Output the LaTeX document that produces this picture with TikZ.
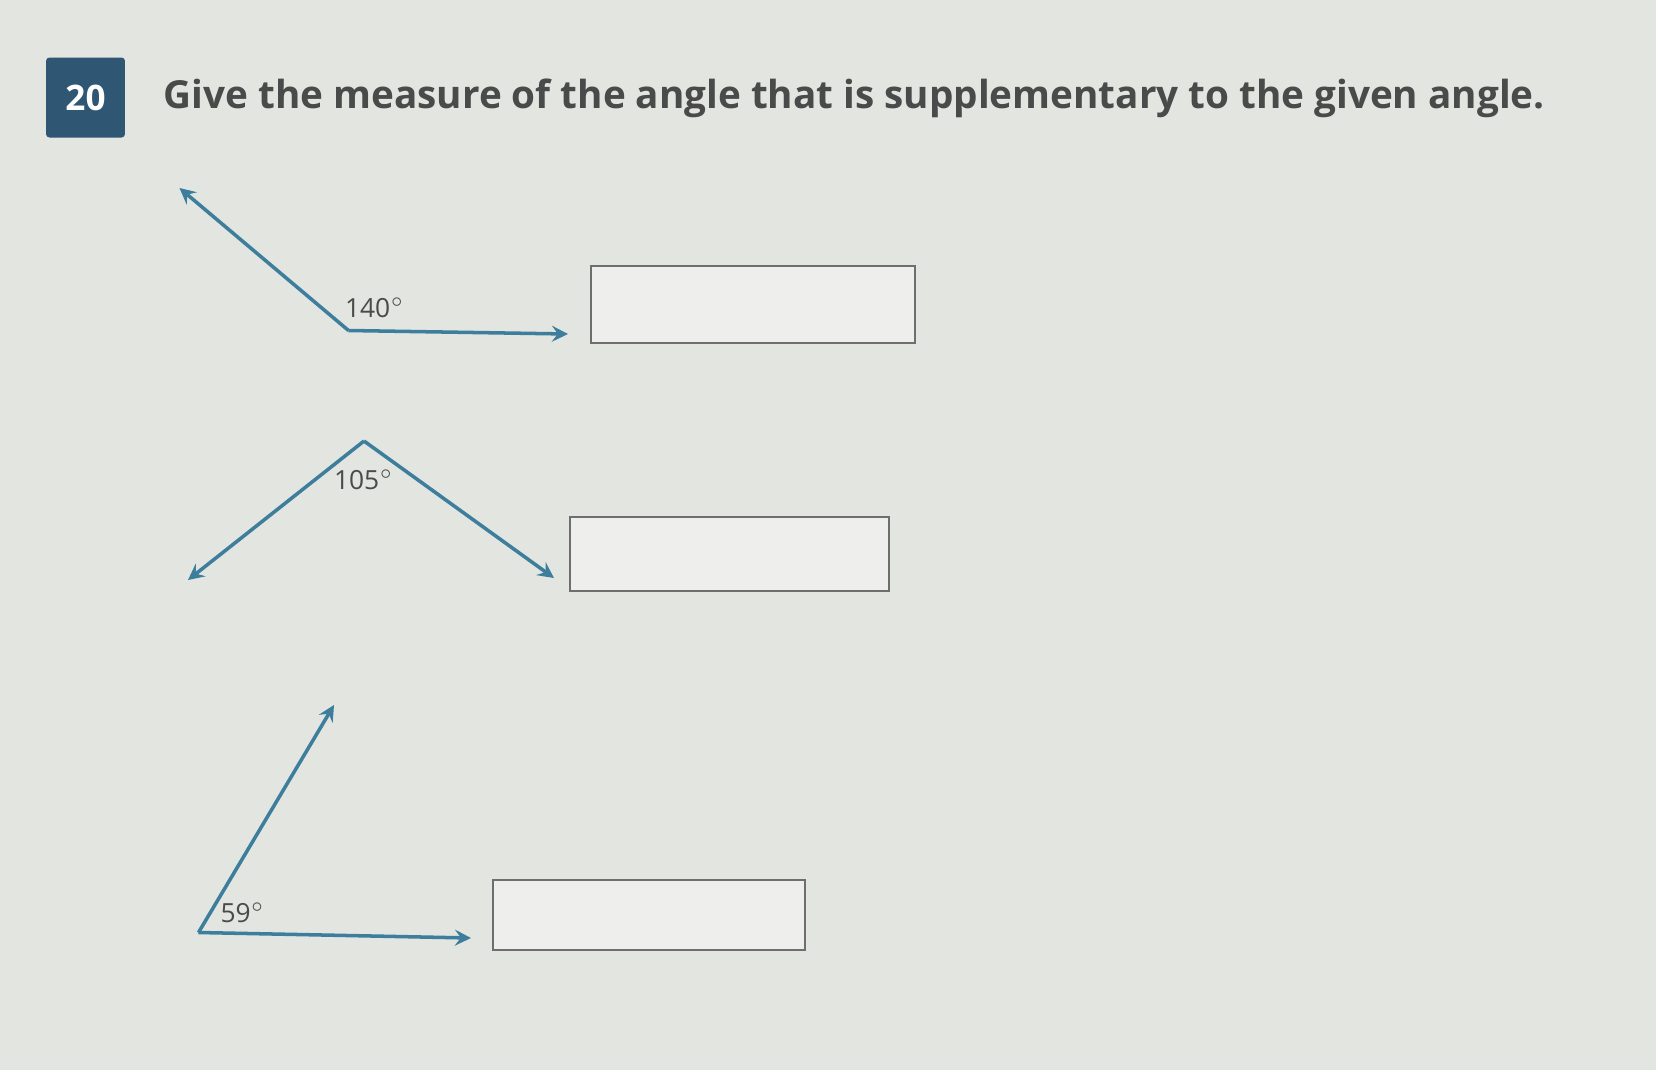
\documentclass[tikz,border=0pt]{standalone}
\usepackage{fontspec}
\setmainfont{Open Sans}
\tikzset{>=stealth}
\usetikzlibrary{positioning}
\definecolor{paper}{HTML}{E3E5E1}
\definecolor{badge}{HTML}{2F5672}
\definecolor{ray}{HTML}{3D7E9C}
\definecolor{ink}{HTML}{4A4A4A}
\tikzset{
  raystyle/.style={->,draw=ray,line width=1pt},
  anglabel/.style={text=ink,font=\fontsize{7.5}{9}\selectfont,inner sep=1pt},
  answerbox/.style={draw=ink!80,fill=white!40!paper,line width=0.6pt}
}

\begin{document}
\begin{tikzpicture}
        \useasboundingbox (0,0) rectangle (16.56,-10.70);
        \fill[paper] (0,0) rectangle (16.56,-10.70);
        % number and question
        \node[fill=badge,text=white,font=\bfseries\fontsize{10}{12}\selectfont,
              minimum width=0.79cm,minimum height=0.80cm,inner sep=0pt,rounded corners=1pt]
              (num) at (0.855,-0.975) {20};
        \node[anchor=west,text=ink,font=\bfseries\fontsize{11}{13}\selectfont,inner sep=0pt]
              (question) at (1.63,-0.98) {Give the measure of the angle that is supplementary to the given angle.};
        % first angle
        \coordinate (v1) at (3.485,-3.305);
        \coordinate (a1) at (1.795,-1.88);
        \coordinate (b1) at (5.68,-3.34);
        \draw[raystyle] (v1) -- (a1);
        \draw[raystyle] (v1) -- (b1);
        \node[anglabel] (l1) at (3.75,-3.08) {140$^{\circ}$};
        \draw[answerbox] (5.91,-2.66) rectangle (9.15,-3.43);
        % second angle
        \coordinate (v2) at (3.64,-4.41);
        \coordinate (a2) at (1.88,-5.80);
        \coordinate (b2) at (5.54,-5.78);
        \draw[raystyle] (v2) -- (a2);
        \draw[raystyle] (v2) -- (b2);
        \node[anglabel] (l2) at (3.64,-4.80) {105$^{\circ}$};
        \draw[answerbox] (5.70,-5.17) rectangle (8.89,-5.91);
        % third angle
        \coordinate (v3) at (1.985,-9.325);
        \coordinate (a3) at (3.34,-7.05);
        \coordinate (b3) at (4.71,-9.38);
        \draw[raystyle] (v3) -- (a3);
        \draw[raystyle] (v3) -- (b3);
        \node[anglabel] (l3) at (2.43,-9.13) {59$^{\circ}$};
        \draw[answerbox] (4.93,-8.80) rectangle (8.05,-9.50);
      \end{tikzpicture}
\end{document}
